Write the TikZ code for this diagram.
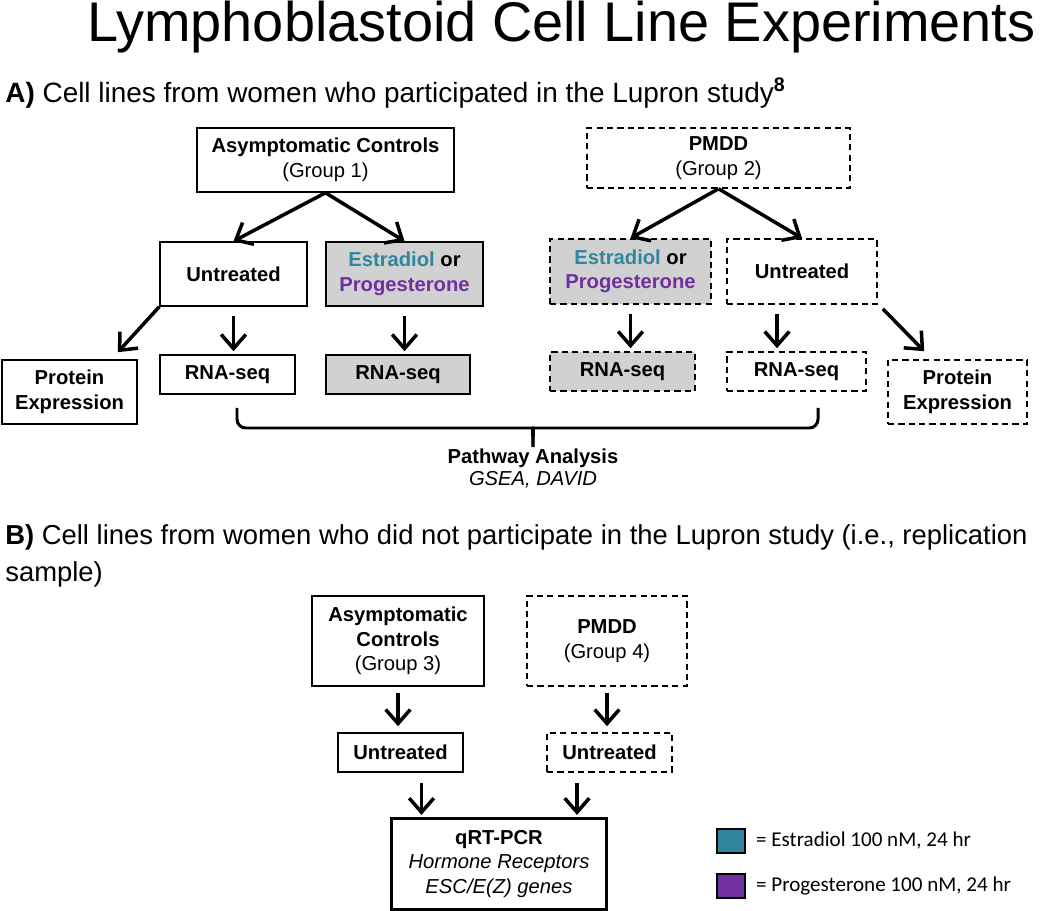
\documentclass[tikz,border=0pt]{standalone}
\usepackage{fontspec}
\setmainfont{Liberation Sans}
\newfontfamily\legendfont{Carlito}
\usepackage{xcolor}
\usepackage{tikz}
\usetikzlibrary{positioning,arrows.meta}

\definecolor{estr}{HTML}{31859C}
\definecolor{prog}{HTML}{7030A0}
\definecolor{trt}{HTML}{D1D1D1}
\newcommand{\boxfont}{\fontsize{11.5}{14}\selectfont}
\newcommand{\Estr}{{\color{estr}Estradiol} or\\{\color{prog}Progesterone}}

\tikzset{
  box/.style={draw, line width=0.9pt, align=center, inner sep=0pt, font=\boxfont\bfseries},
  dbox/.style={box, dash pattern=on 3.5pt off 2.4pt},
  gbox/.style={fill=trt},
  arr/.style={line width=2pt, -{Straight Barb[length=8pt,width=14pt]}},
  vshort/.style={shorten <=5pt, shorten >=1.7pt},
  brc/.style={line width=1.7pt, rounded corners=5pt},
}

\begin{document}
\begin{tikzpicture}[x=0.02cm, y=-0.02cm]
    \useasboundingbox (0,0) rectangle (1050,911);

    \node(title)[anchor=base west, inner sep=0, font=\fontsize{31.8}{36}\selectfont] at (87,42) {Lymphoblastoid Cell Line Experiments};
    \node(hA)[anchor=base west, inner sep=0, font=\fontsize{15.9}{20}\selectfont] at (5,103) {\textbf{A)} Cell lines from women who participated in the Lupron study\textsuperscript{\bfseries 8}};

    % part A
    \node(ac1)[box, minimum width=5.14cm, minimum height=1.28cm] at (325.5,160) {Asymptomatic Controls\\\mdseries(Group 1)};
    \node(pm2)[dbox, minimum width=5.26cm, minimum height=1.2cm] at (718.5,158) {PMDD\\\mdseries(Group 2)};
    \node(un1)[box, minimum width=2.94cm, minimum height=1.28cm] at (233.5,274) {Untreated};
    \node(ep1)[box, gbox, minimum width=3.14cm, minimum height=1.28cm] at (404.5,274) {\Estr};
    \node(ep2)[dbox, gbox, minimum width=3.22cm, minimum height=1.3cm] at (630.5,271.5) {\Estr};
    \node(un2)[dbox, minimum width=3.0cm, minimum height=1.3cm] at (802,271.5) {Untreated};
    \node(pr1)[box, minimum width=2.7cm, minimum height=1.28cm] at (69.5,392) {Protein\\Expression};
    \node(rn1)[box, minimum width=2.7cm, minimum height=0.78cm] at (227.5,374.5) {RNA-seq};
    \node(rn2)[box, gbox, minimum width=2.88cm, minimum height=0.78cm] at (398,374.5) {RNA-seq};
    \node(rn3)[dbox, gbox, minimum width=2.9cm, minimum height=0.78cm] at (622.5,371.5) {RNA-seq};
    \node(rn4)[dbox, minimum width=2.78cm, minimum height=0.78cm] at (796.5,371.5) {RNA-seq};
    \node(pr2)[dbox, minimum width=2.78cm, minimum height=1.28cm] at (957.5,392) {Protein\\Expression};

    \draw[arr] (ac1.south) -- (un1.north);
    \draw[arr] (ac1.south) -- (ep1.north);
    \draw[arr] (pm2.south) -- (ep2.north);
    \draw[arr] (pm2.south) -- (un2.north);
    \draw[arr] (un1.south west) -- ([xshift=-0.4cm,yshift=0.14cm]pr1.north east);
    \draw[arr] ([xshift=0.1cm,yshift=-0.08cm]un2.south east) -- ([xshift=0.74cm,yshift=0.16cm]pr2.north west);
    \draw[arr, vshort] (un1.south) -- (un1.south |- rn1.north);
    \draw[arr, vshort] (ep1.south) -- (ep1.south |- rn2.north);
    \draw[arr, vshort] (ep2.south) -- (ep2.south |- rn3.north);
    \draw[arr, vshort] ([xshift=-0.5cm]un2.south) -- ([xshift=-0.5cm]un2.south |- rn4.north);

    \draw[brc] (237,408) |- (524,428) to[out=0,in=90] (533,447);
    \draw[brc] (818,408) |- (542,428) to[out=180,in=90] (533,447);
    \node(pw)[anchor=base, inner sep=0, align=center, font=\fontsize{11.5}{12.5}\selectfont] at (533,485) {\textbf{Pathway Analysis}\\\textit{GSEA, DAVID}};

    % part B
    \node(hB)[anchor=base west, inner sep=0, align=left, font=\fontsize{15.6}{20.6}\selectfont] at (5,581) {\textbf{B)} Cell lines from women who did not participate in the Lupron study (i.e., replication\\sample)};

    \node(ac3)[box, minimum width=3.44cm, minimum height=1.8cm] at (398,641) {Asymptomatic\\Controls\\\mdseries(Group 3)};
    \node(pm4)[dbox, minimum width=3.2cm, minimum height=1.8cm] at (607,641) {PMDD\\\mdseries(Group 4)};
    \node(un3)[box, minimum width=2.5cm, minimum height=0.78cm] at (400.5,752.5) {Untreated};
    \node(un4)[dbox, minimum width=2.5cm, minimum height=0.78cm] at (609.5,752.5) {Untreated};
    \node(qrt)[box, line width=1.7pt, minimum width=4.32cm, minimum height=1.82cm] at (499,864) {qRT-PCR\\\mdseries\itshape Hormone Receptors\\\mdseries\itshape ESC/E(Z) genes};

    \draw[arr, shorten <=3.4pt, shorten >=3.4pt] (ac3.south) -- (ac3.south |- un3.north);
    \draw[arr, shorten <=3.4pt, shorten >=3.4pt] (pm4.south) -- (pm4.south |- un4.north);
    \draw[arr, shorten <=5.7pt, shorten >=1.2pt] ([xshift=0.42cm]un3.south) -- ([xshift=0.42cm]un3.south |- qrt.north);
    \draw[arr, shorten <=5.7pt, shorten >=1.2pt] ([xshift=-0.65cm]un4.south) -- ([xshift=-0.65cm]un4.south |- qrt.north);

    % legend
    \node(sqE)[draw, fill=estr, line width=0.9pt, minimum width=0.56cm, minimum height=0.48cm, inner sep=0] at (731,841) {};
    \node(sqP)[draw, fill=prog, line width=0.9pt, minimum width=0.56cm, minimum height=0.48cm, inner sep=0] at (731,886) {};
    \node(lgE)[right=0.2cm of sqE, inner sep=0, font=\legendfont\fontsize{12}{14}\selectfont] {= Estradiol 100 nM, 24 hr};
    \node(lgP)[right=0.2cm of sqP, inner sep=0, font=\legendfont\fontsize{12}{14}\selectfont] {= Progesterone 100 nM, 24 hr};
\end{tikzpicture}
\end{document}
